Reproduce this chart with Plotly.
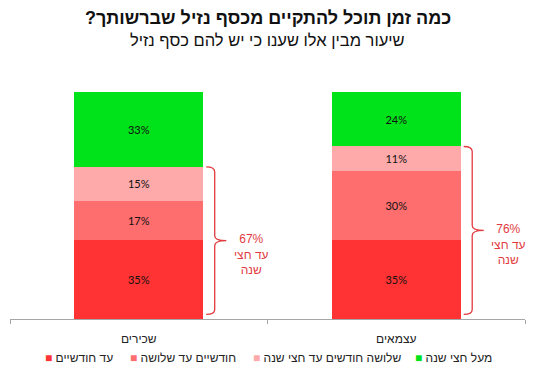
import plotly.graph_objects as go

# ---- data ----
categories = ["שכירים", "עצמאים"]
series_names = ["עד חודשיים", "חודשיים עד שלושה", "שלושה חודשים עד חצי שנה", "מעל חצי שנה"]
up_to_two_months = [35, 35]
two_to_three_months = [17, 30]
three_to_six_months = [15, 11]
over_half_year = [33, 24]
series_values = [up_to_two_months, two_to_three_months, three_to_six_months, over_half_year]
series_colors = ["#FF3333", "#FF6E6E", "#FFAAAA", "#00E31A"]
bracket_caption = "עד חצי<br>שנה"
title_text = "כמה זמן תוכל להתקיים מכסף נזיל שברשותך?\u200F"
subtitle_text = "שיעור מבין אלו שענו כי יש להם כסף נזיל"

FONT = "Liberation Sans, Arial, DejaVu Sans, sans-serif"
NUMFONT = "Lato, Liberation Sans, sans-serif"
RED = "#E23B3F"

x_pos = list(range(len(categories)))

fig = go.Figure()
for name, vals, col in zip(series_names, series_values, series_colors):
    fig.add_trace(go.Bar(
        x=x_pos, y=vals, name=name,
        marker=dict(color=col, line=dict(width=0)),
        texttemplate="%{y}%", textposition="inside", insidetextanchor="middle",
        textfont=dict(family=NUMFONT, size=11, color="#111111"),
        width=0.5, showlegend=False,
    ))

# brackets for the "up to half a year" share
bar_half = 0.25
for i in x_pos:
    total = up_to_two_months[i] + two_to_three_months[i] + three_to_six_months[i]
    ytop, ybot = total, 2.0
    ymid = (ytop + ybot) / 2
    x0 = i + bar_half + 0.012
    xv = i + bar_half + 0.045
    xt = i + bar_half + 0.09
    r = 2.2
    path = (f"M {x0},{ytop} Q {xv},{ytop} {xv},{ytop - r} "
            f"L {xv},{ymid + r} Q {xv},{ymid} {xt},{ymid} "
            f"Q {xv},{ymid} {xv},{ymid - r} "
            f"L {xv},{ybot + r} Q {xv},{ybot} {x0},{ybot}")
    fig.add_shape(type="path", path=path, xref="x", yref="y",
                  line=dict(color=RED, width=1.3))
    fig.add_annotation(x=xt, y=ymid, xref="x", yref="y",
                       text=f"{total}%<br>{bracket_caption}",
                       showarrow=False, xanchor="center", yanchor="middle",
                       xshift=25, yshift=-14,
                       font=dict(family=FONT, size=12, color=RED))

# legend entries (colour square on the left of each label)
legend_x = [0.064, 0.229, 0.468, 0.7825]
for name, col, lx in zip(series_names, series_colors, legend_x):
    fig.add_annotation(
        x=lx, y=-0.172, xref="paper", yref="paper",
        text=f"<span style='color:{col};font-size:12px'>■</span> {name}",
        showarrow=False, xanchor="left", yanchor="middle",
        font=dict(family=FONT, size=12, color="#222222"),
    )

# title and subtitle
fig.add_annotation(x=0.5, y=(319 - 18) / 227, xref="paper", yref="paper",
                   text=f"<b>{title_text}</b>", showarrow=False,
                   xanchor="center", yanchor="middle",
                   font=dict(family=FONT, size=18, color="#111111"))
fig.add_annotation(x=0.5, y=(319 - 40) / 227, xref="paper", yref="paper",
                   text=subtitle_text, showarrow=False,
                   xanchor="center", yanchor="middle",
                   font=dict(family=FONT, size=16.5, color="#111111"))

# page body adds an 8px offset; figure sized so the plot area lands where the reference has it
fig.update_layout(
    width=528, height=375,
    margin=dict(l=2, r=11, t=84, b=64, autoexpand=False),
    paper_bgcolor="white", plot_bgcolor="white",
    barmode="stack", bargap=0.5,
    font=dict(family=FONT, size=12, color="#222222"),
    showlegend=False,
    xaxis=dict(
        range=[-0.5, 1.5], tickvals=x_pos, ticktext=categories,
        ticks="", showgrid=False, zeroline=False,
        showline=True, linecolor="#A6A6A6", linewidth=1,
        ticklabelstandoff=9, tickfont=dict(family=FONT, size=12, color="#222222"),
        minor=dict(tickvals=[-0.5, 0.5, 1.5], ticks="outside", ticklen=4,
                   tickcolor="#A6A6A6", showgrid=False),
        fixedrange=True,
    ),
    yaxis=dict(range=[0, 100], visible=False, fixedrange=True),
)

fig.write_html("out.html")
